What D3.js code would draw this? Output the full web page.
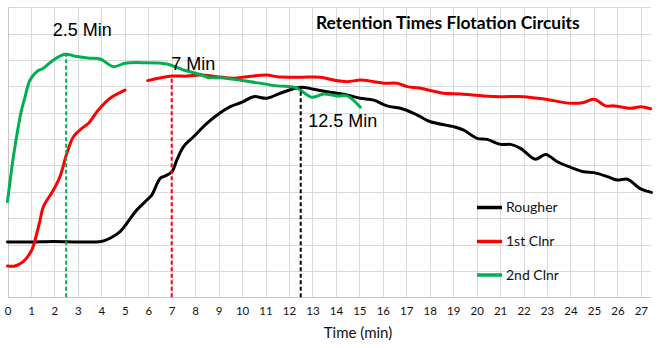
<!DOCTYPE html>
<html>
<head>
<meta charset="utf-8">
<script src="https://cdn.jsdelivr.net/npm/d3@7"></script>
<style>
  html, body { margin: 0; padding: 0; background: #fff; }
  svg { display: block; }
</style>
</head>
<body>
<svg id="chart" width="662" height="348"></svg>
<script>
// Rougher cell response over time (min)
const rougherTime = [0, 1, 2, 3, 4, 4.37, 4.8, 5.09, 5.51, 5.94, 6.15, 6.51, 6.72, 7.01, 7.22, 7.5, 7.93, 8.5, 9.07, 9.5, 10.0, 10.49, 11.06, 11.63, 12.5, 13.05, 13.62, 14.48, 15.04, 15.61, 16.18, 16.75, 17.32, 17.6, 18.03, 19.03, 19.45, 20.02, 20.45, 21.02, 21.45, 21.87, 22.51, 22.94, 23.44, 24.01, 24.57, 25.0, 25.57, 26.0, 26.43, 26.99, 27.45];
const rougherValue = [21.0, 21.0, 21.2, 21.0, 21.2, 22.4, 24.9, 28.1, 33.1, 36.9, 38.8, 45.1, 46.0, 47.6, 52.1, 57.1, 60.9, 66.0, 70.0, 72.3, 74.0, 76.1, 75.5, 77.4, 79.7, 78.9, 78.0, 76.7, 75.5, 74.8, 72.6, 71.7, 69.8, 68.5, 66.6, 64.7, 63.4, 60.3, 59.9, 58.0, 58.0, 56.5, 52.4, 54.2, 51.4, 49.3, 47.6, 47.3, 45.8, 44.5, 44.8, 41.1, 39.8];

// 1st cleaner (null marks the break in the record)
const cleaner1Time = [0, 0.32, 0.67, 1.03, 1.25, 1.39, 1.53, 1.96, 2.24, 2.53, 2.81, 3.17, 3.45, 3.88, 4.37, 5.01, 5.5, 5.98, 7.01, 7.65, 8.22, 8.93, 9.64, 10.21, 11.06, 11.49, 12.48, 13.34, 13.9, 14.48, 15.04, 15.61, 16.04, 16.61, 17.04, 17.6, 18.6, 19.31, 20.31, 21.02, 22.01, 22.87, 24.01, 24.51, 25.0, 25.5, 25.86, 26.57, 26.99, 27.42];
const cleaner1Value = [11.9, 11.9, 13.5, 17.9, 24.3, 29.3, 34.4, 40.7, 45.8, 54.6, 60.9, 64.1, 66.0, 71.1, 75.5, 78.6, null, 82.2, 83.9, 83.9, 84.3, 83.7, 83.1, 83.7, 84.3, 83.7, 83.5, 83.5, 82.4, 81.8, 82.4, 81.8, 81.2, 81.2, 79.9, 79.3, 77.4, 77.1, 76.4, 76.1, 76.1, 75.2, 73.6, 73.8, 75.1, 72.6, 72.6, 71.7, 72.3, 71.5];

// 2nd cleaner
const cleaner2Time = [0, 0.25, 0.46, 0.6, 0.75, 0.96, 1.25, 1.53, 1.96, 2.45, 2.95, 3.52, 3.95, 4.52, 5.01, 5.8, 6.79, 7.5, 8.22, 8.6, 9.07, 10.35, 11.49, 12.3, 12.98, 13.48, 14.05, 14.48, 15.04];
const cleaner2Value = [36.3, 53.3, 64.7, 71.1, 76.1, 82.4, 85.6, 86.9, 90.0, 92.2, 91.3, 90.7, 90.4, 87.5, 88.8, 89.0, 88.5, 86.2, 84.5, 83.3, 83.3, 81.8, 80.2, 79.5, 75.9, 77.1, 76.4, 76.4, 72.1];

// Retention-time markers: time, value where the marker meets its curve, label
const markerTime = [2.5, 7, 12.5];
const markerValue = [92.2, 83.9, 79.7];
const markerLabel = ["2.5 Min", "7 Min", "12.5 Min"];

const xTicks = d3.range(0, 28);
const yGrid = d3.range(0, 111, 10);
const seriesNames = ["Rougher", "1st Clnr", "2nd Clnr"];
const seriesColors = ["#000000", "#ff0000", "#00b050"];

const svg = d3.select("#chart");
const W = 662, H = 348;
svg.append("rect").attr("width", W).attr("height", H).attr("fill", "#fff");

const plot = { left: 7.5, right: 650.7, top: 7.3, bottom: 297.3 };
const x = d3.scaleLinear().domain([0, 27.42]).range([plot.left, plot.right]);
const y = d3.scaleLinear().domain([0, 110]).range([plot.bottom, plot.top]);

// Gridlines
const grid = svg.append("g").attr("stroke", "#d9d9d9").attr("stroke-width", 1).attr("shape-rendering", "crispEdges");
grid.selectAll("line.h").data(yGrid).join("line")
  .attr("x1", plot.left).attr("x2", plot.right)
  .attr("y1", d => Math.round(y(d)) + 0.5).attr("y2", d => Math.round(y(d)) + 0.5);
grid.selectAll("line.v").data(xTicks).join("line")
  .attr("x1", d => Math.round(x(d)) + 0.5).attr("x2", d => Math.round(x(d)) + 0.5)
  .attr("y1", plot.top).attr("y2", plot.bottom);

// Axis lines
svg.append("line").attr("x1", plot.left).attr("x2", plot.right)
  .attr("y1", Math.round(plot.bottom) + 0.5).attr("y2", Math.round(plot.bottom) + 0.5)
  .attr("stroke", "#c8c8c8").attr("shape-rendering", "crispEdges");
svg.append("line").attr("x1", Math.round(plot.left) + 0.5).attr("x2", Math.round(plot.left) + 0.5)
  .attr("y1", plot.top).attr("y2", plot.bottom)
  .attr("stroke", "#c8c8c8").attr("shape-rendering", "crispEdges");

// X axis tick labels
const xAxis = d3.axisBottom(x).tickValues(xTicks).tickSize(0).tickPadding(10).tickFormat(d3.format("d"));
const gx = svg.append("g").attr("transform", `translate(0,${plot.bottom})`).call(xAxis);
gx.select(".domain").remove();
gx.selectAll("text").attr("font-family", "Lato, 'Open Sans', sans-serif").attr("font-size", 11.5).attr("fill", "#111");

// Axis title
svg.append("text").attr("x", 358).attr("y", 338).attr("text-anchor", "middle")
  .attr("font-family", "Lato, 'Open Sans', sans-serif").attr("font-size", 15).attr("fill", "#111")
  .text("Time (min)");

// Series lines
const series = [
  { t: rougherTime, v: rougherValue },
  { t: cleaner1Time, v: cleaner1Value },
  { t: cleaner2Time, v: cleaner2Value }
];
const line = d3.line()
  .defined(d => d[1] != null)
  .x(d => x(d[0])).y(d => y(d[1]))
  .curve(d3.curveCatmullRom.alpha(0.5));

// Draw in order: rougher, 1st cleaner, 2nd cleaner on top
series.forEach((s, i) => {
  const pts = s.t.map((t, j) => [t, s.v[j]]);
  svg.append("path").attr("d", line(pts)).attr("fill", "none")
    .attr("stroke", seriesColors[i]).attr("stroke-width", 3)
    .attr("stroke-linejoin", "round").attr("stroke-linecap", "round");
});

// Retention-time markers
const markerColors = ["#00b050", "#ff0000", "#000000"];
markerTime.forEach((t, i) => {
  svg.append("line")
    .attr("x1", x(t)).attr("x2", x(t))
    .attr("y1", y(0)).attr("y2", y(markerValue[i]))
    .attr("stroke", markerColors[i]).attr("stroke-width", 2)
    .attr("stroke-dasharray", "4,2.5");
});

// Marker labels
const labelOffset = [[-13.5, 36], [-0.5, 70], [7.5, 127]];
markerLabel.forEach((lab, i) => {
  svg.append("text")
    .attr("x", x(markerTime[i]) + labelOffset[i][0]).attr("y", labelOffset[i][1])
    .attr("font-family", "'Liberation Sans', Arial, sans-serif").attr("font-size", 18)
    .attr("fill", "#000").text(lab);
});

// Title, fitted to its box
const title = svg.append("text").attr("x", 316).attr("y", 28.5)
  .attr("font-family", "Lato, 'Open Sans', sans-serif").attr("font-weight", "bold")
  .attr("font-size", 18).attr("fill", "#000")
  .text("Retention Times Flotation Circuits");
const tw = title.node().getComputedTextLength();
title.attr("font-size", 18 * 264 / tw);

// Legend
const legendRows = [207.5, 241.5, 275];
const legend = svg.append("g");
seriesNames.forEach((name, i) => {
  legend.append("line").attr("x1", 477).attr("x2", 502)
    .attr("y1", legendRows[i]).attr("y2", legendRows[i])
    .attr("stroke", seriesColors[i]).attr("stroke-width", 3.5);
  legend.append("text").attr("x", 506).attr("y", legendRows[i]).attr("dy", "0.35em")
    .attr("font-family", "Lato, 'Open Sans', sans-serif").attr("font-size", 14)
    .attr("fill", "#111").text(name);
});
</script>
</body>
</html>
